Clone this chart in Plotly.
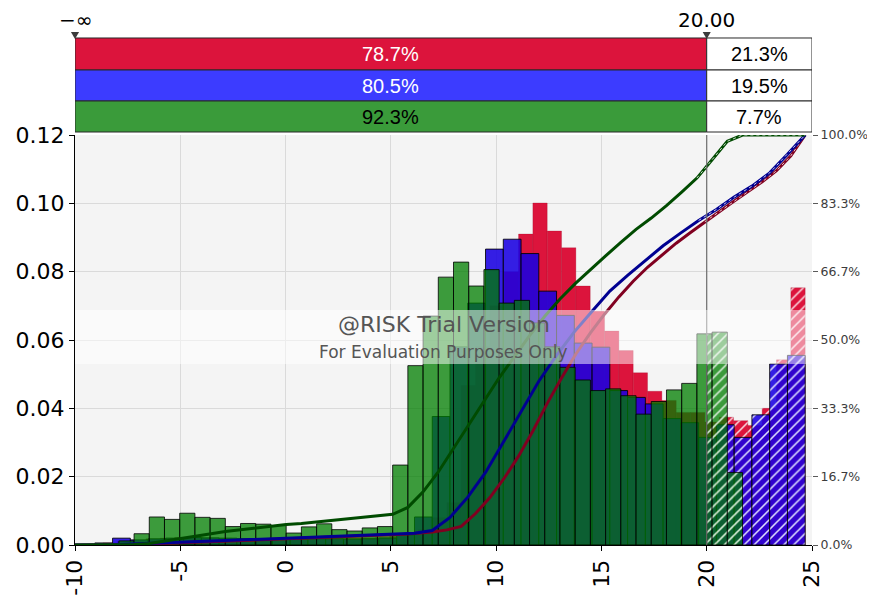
import numpy as np
import plotly.graph_objects as go

# ---------------- data ----------------
X_RANGE = [-10, 25]
Y_RANGE = [0, 0.12]
DELIMITER = 20.0

# histogram densities, left to right (equal-width bins)
red_start = -9.354
red_width = 0.6806
red_density = [0.0003, 0.0006, 0.0010, 0.0014, 0.0018, 0.0020, 0.0022, 0.0022, 0.0020, 0.0020,
               0.0019, 0.0018, 0.0018, 0.0019, 0.0019, 0.0018, 0.0019, 0.0020, 0.0020, 0.0021,
               0.0022, 0.0025, 0.0030, 0.0045, 0.0080, 0.0124, 0.0467, 0.0580, 0.0700, 0.0800,
               0.0910, 0.1001, 0.0919, 0.0870, 0.0758, 0.0684, 0.0626, 0.0569, 0.0504, 0.0450,
               0.0423, 0.0388, 0.0388, 0.0360, 0.0374, 0.0364, 0.0350, 0.0400, 0.0542, 0.0753]

blue_start = -9.059
blue_width = 0.8434
blue_density = [0.0006, 0.0020, 0.0015, 0.0018, 0.0020, 0.0022, 0.0021, 0.0020, 0.0019, 0.0018,
                0.0017, 0.0017, 0.0018, 0.0018, 0.0017, 0.0018, 0.0020, 0.0030, 0.0082, 0.0376,
                0.0580, 0.0708, 0.0866, 0.0895, 0.0853, 0.0743, 0.0672, 0.0591, 0.0579, 0.0452,
                0.0432, 0.0413, 0.0370, 0.0358, 0.0315, 0.0352, 0.0315, 0.0381, 0.0530, 0.0555]

green_start = -8.64
green_width = 0.7224
green_density = [0.0004, 0.0012, 0.0033, 0.0082, 0.0075, 0.0093, 0.0081, 0.0078, 0.0054, 0.0063,
                 0.0061, 0.0057, 0.0035, 0.0053, 0.0062, 0.0045, 0.0041, 0.0050, 0.0054, 0.0234,
                 0.0525, 0.0670, 0.0784, 0.0828, 0.0758, 0.0806, 0.0708, 0.0716, 0.0650, 0.0580,
                 0.0520, 0.0483, 0.0452, 0.0457, 0.0437, 0.0383, 0.0420, 0.0454, 0.0473, 0.0618,
                 0.0623, 0.0212]

left_pct = ["78.7%", "80.5%", "92.3%"]
right_pct = ["21.3%", "19.5%", "7.7%"]

x_tick_vals = [-10, -5, 0, 5, 10, 15, 20, 25]
x_tick_text = ["-10", "-5", "0", "5", "10", "15", "20", "25"]
y2_tick_text = ["0.0%", "16.7%", "33.3%", "50.0%", "66.7%", "83.3%", "100.0%"]

# ---------------- styles ----------------
BAR_FILL = ["rgb(220,20,60)", "rgba(25,0,225,0.88)", "rgba(0,126,0,0.755)"]
BAR_LINE = ["rgba(150,0,30,0.5)", "rgba(0,0,0,0.85)", "rgba(0,0,0,0.8)"]
BAR_LW = [0.5, 1, 1]
CDF_COLOR = ["rgb(128,0,32)", "rgb(0,0,145)", "rgb(0,75,0)"]
TOP_FILL = ["#DC143C", "#3C3CFF", "#3A9B3A"]
TOP_TEXT = ["white", "white", "black"]
ROWS = [(1.2366, 1.1585), (1.1585, 1.0829), (1.0829, 1.0073)]
TOP_FONT = "Liberation Sans Narrow, Liberation Sans, sans-serif"

series = [(red_start, red_width, red_density),
          (blue_start, blue_width, blue_density),
          (green_start, green_width, green_density)]

fig = go.Figure()

# histograms
for i, (start, width, dens) in enumerate(series):
    lefts = start + width * np.arange(len(dens))
    L, R, H, P = [], [], [], []
    for l, h in zip(lefts, dens):
        r = l + width
        if r <= DELIMITER or l >= DELIMITER:
            L.append(l); R.append(r); H.append(h); P.append('/' if l >= DELIMITER else '')
        else:
            L += [l, DELIMITER]; R += [DELIMITER, r]; H += [h, h]; P += ['', '/']
    L, R = np.array(L), np.array(R)
    fig.add_trace(go.Bar(
        x=(L + R) / 2, y=H, width=R - L,
        marker=dict(color=BAR_FILL[i], line=dict(color=BAR_LINE[i], width=BAR_LW[i]),
                    pattern=dict(shape=P, fgcolor="white", fgopacity=0.85, size=7,
                                 solidity=0.22, fillmode="overlay")),
        hoverinfo="skip", showlegend=False))

# cumulative curves (from the histogram values)
xmax_all = max(s + w * len(d) for s, w, d in series)
for i, (start, width, dens) in enumerate(series):
    d = np.array(dens)
    edges = start + width * np.arange(len(d) + 1)
    c = np.concatenate([[0.0], np.cumsum(d * width)])
    c = c / c[-1]
    xs = np.concatenate([[X_RANGE[0]], edges])
    ys = np.concatenate([[0.0], c])
    if xs[-1] < xmax_all:
        xs = np.append(xs, xmax_all); ys = np.append(ys, 1.0)
    fig.add_trace(go.Scatter(x=xs, y=ys, yaxis="y2", mode="lines",
                             line=dict(color=CDF_COLOR[i], width=3),
                             hoverinfo="skip", showlegend=False))
    k0 = max(int(np.searchsorted(xs, DELIMITER)) - 1, 0)
    fig.add_trace(go.Scatter(x=xs[k0:], y=ys[k0:], yaxis="y2", mode="lines",
                             line=dict(color="rgba(255,255,255,0.8)", width=1, dash="3px,3px"),
                             hoverinfo="skip", showlegend=False))

shapes = []
annotations = []

# delimiter line in plot
shapes.append(dict(type="line", xref="x", yref="paper", x0=DELIMITER, x1=DELIMITER, y0=0, y1=1,
                   line=dict(color="rgb(110,110,110)", width=1.2), layer="above"))

# watermark band
shapes.append(dict(type="rect", xref="paper", yref="paper", x0=0, x1=1, y0=0.4415, y1=0.573,
                   fillcolor="rgba(255,255,255,0.5)", line=dict(width=0), layer="above"))
annotations.append(dict(xref="paper", yref="paper", x=0.5, y=0.5366, xanchor="center", yanchor="middle",
                        text="@RISK Trial Version", showarrow=False,
                        font=dict(family="DejaVu Sans", size=22, color="rgb(85,85,85)")))
annotations.append(dict(xref="paper", yref="paper", x=0.5, y=0.4707, xanchor="center", yanchor="middle",
                        text="For Evaluation Purposes Only", showarrow=False,
                        font=dict(family="DejaVu Sans", size=17, color="rgb(85,85,85)")))

# delimiter bars on top
for i in range(3):
    y0, y1 = ROWS[i][1], ROWS[i][0]
    shapes.append(dict(type="rect", xref="x", yref="paper", x0=X_RANGE[0], x1=DELIMITER, y0=y0, y1=y1,
                       fillcolor=TOP_FILL[i], line=dict(color="rgb(40,40,40)", width=1)))
    shapes.append(dict(type="rect", xref="x", yref="paper", x0=DELIMITER, x1=X_RANGE[1], y0=y0, y1=y1,
                       fillcolor="white", line=dict(color="rgb(40,40,40)", width=1)))
    ym = (y0 + y1) / 2
    annotations.append(dict(xref="x", yref="paper", x=(X_RANGE[0] + DELIMITER) / 2, y=ym,
                            xanchor="center", yanchor="middle", text=left_pct[i], showarrow=False,
                            font=dict(family=TOP_FONT, size=20, color=TOP_TEXT[i])))
    annotations.append(dict(xref="x", yref="paper", x=(DELIMITER + X_RANGE[1]) / 2, y=ym,
                            xanchor="center", yanchor="middle", text=right_pct[i], showarrow=False,
                            font=dict(family=TOP_FONT, size=20, color="black")))

# delimiter markers (small triangles) and labels
span = X_RANGE[1] - X_RANGE[0]
for xv, lab in [(X_RANGE[0], "\u2212\u221e"), (DELIMITER, f"{DELIMITER:.2f}")]:
    px_ = (xv - X_RANGE[0]) / span
    hw = 0.0055
    shapes.append(dict(type="path", xref="paper", yref="paper",
                       path=f"M {px_ - hw},1.2512 L {px_ + hw},1.2512 L {px_},1.2341 Z",
                       fillcolor="rgb(60,60,60)", line=dict(width=0)))
    annotations.append(dict(xref="x", yref="paper", x=xv, y=1.280, xanchor="center", yanchor="middle",
                            text=lab, showarrow=False, borderpad=0,
                            font=dict(family="DejaVu Sans", size=20, color="black")))

# page body adds an 8px offset, so the figure is 8px smaller and margins shifted accordingly
fig.update_layout(
    width=867, height=590,
    margin=dict(l=67, r=63, t=127, b=53, autoexpand=False),
    paper_bgcolor="white", plot_bgcolor="rgb(244,244,244)",
    barmode="overlay", showlegend=False,
    xaxis=dict(range=X_RANGE, tickvals=x_tick_vals, ticktext=x_tick_text, tickangle=-90,
               tickfont=dict(family="DejaVu Sans", size=22, color="black"),
               showgrid=True, gridcolor="rgb(218,218,218)", zeroline=False,
               showline=True, linecolor="black", linewidth=1, automargin=False,
               ticks="outside", ticklen=5, tickcolor="black"),
    yaxis=dict(range=Y_RANGE, dtick=0.02, tickformat=".2f", automargin=False,
               tickfont=dict(family="DejaVu Sans", size=22, color="black"),
               showgrid=True, gridcolor="rgb(218,218,218)", zeroline=False,
               showline=True, linecolor="black", linewidth=1,
               ticks="outside", ticklen=5, tickcolor="black"),
    yaxis2=dict(range=[0, 1], overlaying="y", side="right", automargin=False,
                tickvals=[float(t.rstrip('%')) / 100 for t in y2_tick_text], ticktext=y2_tick_text,
                showgrid=False, zeroline=False, showline=False,
                ticks="outside", ticklen=5, tickcolor="rgb(90,90,90)",
                tickfont=dict(family="DejaVu Sans", size=12.5, color="rgb(60,60,60)")),
    shapes=shapes, annotations=annotations,
)

fig.write_html("out.html")
